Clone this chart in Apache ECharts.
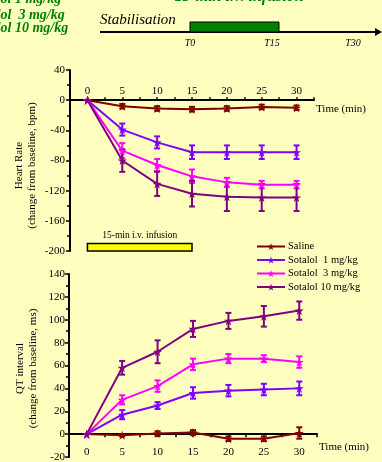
<!DOCTYPE html>
<html>
<head>
<meta charset="utf-8">
<script src="https://cdn.jsdelivr.net/npm/echarts@6/dist/echarts.min.js"></script>
<style>
html,body{margin:0;padding:0;background:#FFFFC0;}
#chart{width:382px;height:462px;}
</style>
</head>
<body>
<div id="chart"></div>
<script>
// ---------- data ----------
const times = [0, 5, 10, 15, 20, 25, 30];
const xTickLabels = [0, 5, 10, 15, 20, 25, 30];
const seriesNames = ['Saline', 'Sotalol  1 mg/kg', 'Sotalol  3 mg/kg', 'Sotalol 10 mg/kg'];

// Heart rate (change from baseline, bpm)
const hrSaline = [0, -8, -11, -12, -11, -9, -10];
const hrSot1   = [0, -39, -56, -69, -69, -69, -69];
const hrSot3   = [0, -67, -86, -101, -109, -112, -112];
const hrSot10  = [0, -80, -111, -124, -128, -129, -129];
const hrSalineErr = [0, 3, 3, 3, 3, 3, 3];
const hrSot1Err   = [0, 8, 8, 9, 9, 9, 9];
const hrSot3Err   = [0, 10, 8, 9, 6, 5, 5];
const hrSot10Err  = [0, 15, 16, 17, 19, 18, 18];

// QT interval (change from baseline, ms)
const qtSaline = [0, -1, 0.5, 1.5, -4, -4, 1];
const qtSot1   = [0, 17, 25, 36, 38, 39, 40];
const qtSot3   = [0, 30, 42, 61, 66, 66, 63];
const qtSot10  = [0, 58, 72, 92, 99, 103, 108];
const qtSalineErr = [0, 1, 2, 2, 2, 2, 5];
const qtSot1Err   = [0, 4, 3, 5, 5, 5, 6];
const qtSot3Err   = [0, 4, 5, 5, 4, 3, 5];
const qtSot10Err  = [0, 6, 10, 7, 7, 9, 8];

const hrYTicks = { min: -200, max: 40, interval: 40 };
const qtYTicks = { min: -20, max: 140, interval: 20 };

// ---------- styling ----------
const colors = ['#800000', '#7F00FF', '#FF00FF', '#800080'];
const FONT = '"Liberation Serif", "Times New Roman", serif';
const STAR = 'path://M50,0 L61,35 L98,35 L68,57 L79,91 L50,70 L21,91 L32,57 L2,35 L39,35 Z';

const G1 = { left: 70, top: 70, width: 244, height: 181 };
const G2 = { left: 69, top: 274, width: 248, height: 183 };

const chart = echarts.init(document.getElementById('chart'), null, { renderer: 'canvas' });

function pairs(vals) { return times.map((t, i) => [t, vals[i]]); }
function triples(vals, errs) { return times.map((t, i) => [t, vals[i], errs[i]]); }

function renderErr(params, api) {
  const x = api.value(0), y = api.value(1), e = api.value(2);
  if (!e) return null;
  const top = api.coord([x, y + e]);
  const bot = api.coord([x, y - e]);
  const w = 3;
  const style = { stroke: api.visual('color'), lineWidth: 2 };
  return {
    type: 'group',
    children: [
      { type: 'line', shape: { x1: top[0], y1: top[1], x2: bot[0], y2: bot[1] }, style: style },
      { type: 'line', shape: { x1: top[0] - w, y1: top[1], x2: top[0] + w, y2: top[1] }, style: style },
      { type: 'line', shape: { x1: bot[0] - w, y1: bot[1], x2: bot[0] + w, y2: bot[1] }, style: style }
    ]
  };
}

function lineSeries(name, vals, idx, color) {
  return {
    name: name, type: 'line', xAxisIndex: idx, yAxisIndex: idx,
    data: pairs(vals), symbol: STAR, symbolSize: 9,
    lineStyle: { color: color, width: 2 }, itemStyle: { color: color },
    z: 5, silent: true
  };
}
function errSeries(name, vals, errs, idx, color) {
  return {
    name: name + ' err', type: 'custom', xAxisIndex: idx, yAxisIndex: idx,
    data: triples(vals, errs), renderItem: renderErr,
    itemStyle: { color: color }, encode: { x: 0, y: 1 }, z: 4, silent: true
  };
}

const hrVals = [hrSaline, hrSot1, hrSot3, hrSot10];
const hrErrs = [hrSalineErr, hrSot1Err, hrSot3Err, hrSot10Err];
const qtVals = [qtSaline, qtSot1, qtSot3, qtSot10];
const qtErrs = [qtSalineErr, qtSot1Err, qtSot3Err, qtSot10Err];

const series = [];
seriesNames.forEach((n, i) => series.push(lineSeries(n, hrVals[i], 0, colors[i])));
seriesNames.forEach((n, i) => series.push(lineSeries(n, qtVals[i], 1, colors[i])));
seriesNames.forEach((n, i) => series.push(errSeries(n, hrVals[i], hrErrs[i], 0, colors[i])));
seriesNames.forEach((n, i) => series.push(errSeries(n, qtVals[i], qtErrs[i], 1, colors[i])));

// infusion box on HR panel (x 0–15 min)
series[0].clip = false;
series[0].markArea = {
  silent: true,
  itemStyle: { color: '#FFFF00', borderColor: '#000', borderWidth: 1.5 },
  label: { show: true, position: 'top', distance: 2, formatter: '15-min i.v. infusion',
           color: '#000', fontSize: 9.5, fontFamily: FONT },
  data: [[{ xAxis: 0, yAxis: -190 }, { xAxis: 15, yAxis: -201.5 }]]
};

const axisTextStyle = { color: '#000', fontSize: 11, fontFamily: FONT };
function xAxisLabelFormatter(v) {
  return (Math.abs(v % 5) < 1e-6 && v >= 0 && v <= 30) ? String(v) : '';
}
// place the time axis on the zero line of each panel
const hrZeroOffset = -G1.height * hrYTicks.max / (hrYTicks.max - hrYTicks.min);
const qtZeroOffset = -G2.height * (0 - qtYTicks.min) / (qtYTicks.max - qtYTicks.min);

const option = {
  backgroundColor: '#FFFFC0',
  animation: false,
  textStyle: { fontFamily: FONT },
  grid: [
    Object.assign({ containLabel: false, outerBoundsMode: 'none' }, G1),
    Object.assign({ containLabel: false, outerBoundsMode: 'none' }, G2)
  ],
  xAxis: [
    {
      type: 'value', gridIndex: 0, min: -2.5, max: 32.5, interval: 2.5, position: 'top', offset: hrZeroOffset,
      axisLine: { onZero: false, lineStyle: { color: '#000', width: 2 } },
      axisTick: { show: true, length: 3, lineStyle: { color: '#000', width: 1.5 } },
      axisLabel: Object.assign({ margin: 4, customValues: xTickLabels, formatter: xAxisLabelFormatter }, axisTextStyle),
      splitLine: { show: false },
      name: 'Time (min)', nameLocation: 'end', nameGap: 2, nameMoveOverlap: false,
      nameTextStyle: Object.assign({ verticalAlign: 'top', align: 'left', padding: [3, 0, 0, 0] }, axisTextStyle)
    },
    {
      type: 'value', gridIndex: 1, min: -2.5, max: 32.5, interval: 2.5, position: 'bottom', offset: qtZeroOffset,
      axisLine: { onZero: false, lineStyle: { color: '#000', width: 2 } },
      axisTick: { show: true, length: 3, lineStyle: { color: '#000', width: 1.5 } },
      axisLabel: Object.assign({ margin: 12, customValues: xTickLabels, formatter: xAxisLabelFormatter }, axisTextStyle),
      splitLine: { show: false },
      name: 'Time (min)', nameLocation: 'end', nameGap: 2, nameMoveOverlap: false,
      nameTextStyle: Object.assign({ verticalAlign: 'top', align: 'left', padding: [7, 0, 0, 0] }, axisTextStyle)
    }
  ],
  yAxis: [
    {
      type: 'value', gridIndex: 0, min: hrYTicks.min, max: hrYTicks.max, interval: hrYTicks.interval,
      axisLine: { show: true, onZero: false, lineStyle: { color: '#000', width: 2 } },
      axisTick: { show: true, length: 4, lineStyle: { color: '#000', width: 1.5 } },
      minorTick: { show: true, splitNumber: 2, length: 3, lineStyle: { color: '#000', width: 1.5 } },
      axisLabel: Object.assign({ margin: 5 }, axisTextStyle),
      splitLine: { show: false },
      name: 'Heart Rate\n(change from baseline, bpm)', nameLocation: 'middle', nameRotate: 90, nameGap: 31,
      nameMoveOverlap: false,
      nameTextStyle: Object.assign({ lineHeight: 13, padding: [0, 10, 0, 0] }, axisTextStyle)
    },
    {
      type: 'value', gridIndex: 1, min: qtYTicks.min, max: qtYTicks.max, interval: qtYTicks.interval,
      axisLine: { show: true, onZero: false, lineStyle: { color: '#000', width: 2 } },
      axisTick: { show: true, length: 4, lineStyle: { color: '#000', width: 1.5 } },
      minorTick: { show: true, splitNumber: 2, length: 3, lineStyle: { color: '#000', width: 1.5 } },
      axisLabel: Object.assign({ margin: 4 }, axisTextStyle),
      splitLine: { show: false },
      name: 'QT interval\n(change from baseline, ms)', nameLocation: 'middle', nameRotate: 90, nameGap: 29,
      nameMoveOverlap: false,
      nameTextStyle: Object.assign({ lineHeight: 13, padding: [0, 6, 0, 0] }, axisTextStyle)
    }
  ],
  legend: {
    data: seriesNames, orient: 'vertical', left: 251, top: 236,
    itemWidth: 28, itemHeight: 9, itemGap: 2.5,
    textStyle: { color: '#000', fontSize: 10.5, fontFamily: FONT, padding: [0, 0, 0, -2] },
    selectedMode: false
  },
  graphic: [
    { type: 'text', x: -29, y: -1, style: { text: 'Sotalol 1 mg/kg', font: 'italic bold 14px ' + FONT, fill: '#008000', textAlign: 'left', textVerticalAlign: 'middle', align: 'left', verticalAlign: 'middle' } },
    { type: 'text', x: -29, y: 15.5, style: { text: 'Sotalol  3 mg/kg', font: 'italic bold 14px ' + FONT, fill: '#008000', textAlign: 'left', textVerticalAlign: 'middle', align: 'left', verticalAlign: 'middle' } },
    { type: 'text', x: -29, y: 28.5, style: { text: 'Sotalol 10 mg/kg', font: 'italic bold 14px ' + FONT, fill: '#008000', textAlign: 'left', textVerticalAlign: 'middle', align: 'left', verticalAlign: 'middle' } },
    { type: 'text', x: 239, y: -3.5, style: { text: '15-min i.v. infusion', font: 'italic bold 16px ' + FONT, fill: '#008000', textAlign: 'center', textVerticalAlign: 'middle', align: 'center', verticalAlign: 'middle' } },
    { type: 'text', x: 100, y: 20, style: { text: 'Stabilisation', font: 'italic 15px ' + FONT, fill: '#000', textAlign: 'left', textVerticalAlign: 'middle', align: 'left', verticalAlign: 'middle' } },
    { type: 'line', shape: { x1: 100, y1: 32, x2: 377, y2: 32 }, style: { stroke: '#000', lineWidth: 2 } },
    { type: 'polygon', shape: { points: [[382, 32], [375, 28], [375, 36]] }, style: { fill: '#000' } },
    { type: 'rect', shape: { x: 190, y: 22, width: 89, height: 10 }, style: { fill: '#008000', stroke: '#000', lineWidth: 1 } },
    { type: 'text', x: 190, y: 43, style: { text: 'T0', font: 'italic 10px ' + FONT, fill: '#000', textAlign: 'center', textVerticalAlign: 'middle', align: 'center', verticalAlign: 'middle' } },
    { type: 'text', x: 272, y: 43, style: { text: 'T15', font: 'italic 10px ' + FONT, fill: '#000', textAlign: 'center', textVerticalAlign: 'middle', align: 'center', verticalAlign: 'middle' } },
    { type: 'text', x: 353, y: 43, style: { text: 'T30', font: 'italic 10px ' + FONT, fill: '#000', textAlign: 'center', textVerticalAlign: 'middle', align: 'center', verticalAlign: 'middle' } }
  ],
  series: series
};

chart.setOption(option);
</script>
</body>
</html>
